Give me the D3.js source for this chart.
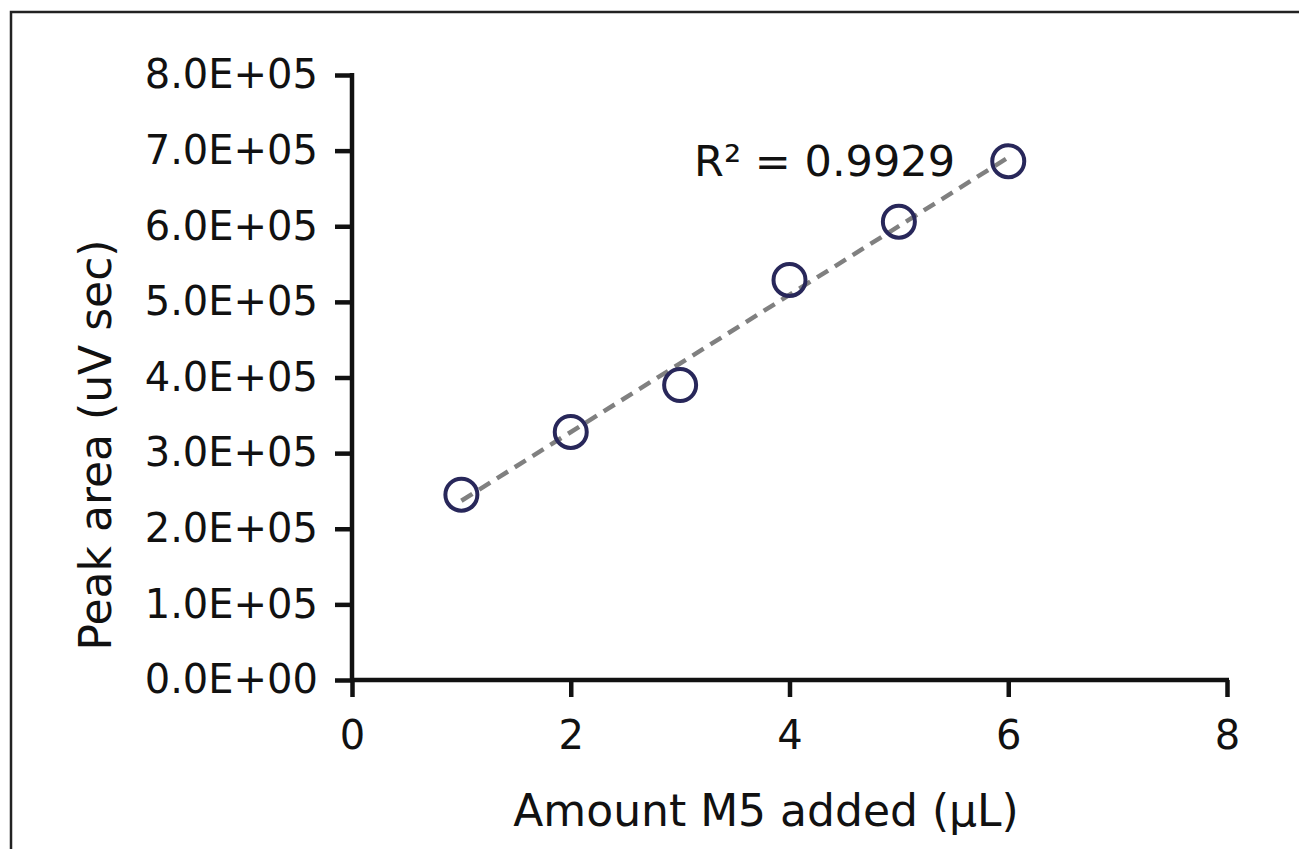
<!DOCTYPE html>
<html>
<head>
<meta charset="utf-8">
<script src="https://cdn.jsdelivr.net/npm/d3@7"></script>
<style>
  body { margin: 0; background: #fff; }
  svg text { font-family: "DejaVu Sans", Verdana, sans-serif; fill: #111; }
</style>
</head>
<body>
<svg></svg>
<script>
let w = 1299;
let h = 849;

// data
const amounts = [1, 2, 3, 4, 5, 6];
const peakAreas = [2.45e5, 3.28e5, 3.90e5, 5.29e5, 6.06e5, 6.86e5];
const xTicks = [0, 2, 4, 6, 8];
const yTicks = [0, 1e5, 2e5, 3e5, 4e5, 5e5, 6e5, 7e5, 8e5];
const r2Label = 'R² = 0.9929';

const svg = d3.select('svg')
  .attr('width', w)
  .attr('height', h)

// frame (only top and left visible in the original)
svg.append('path')
  .attr('d', `M11,${h} L11,12 L${w},12`)
  .attr('fill', 'none')
  .attr('stroke', '#222')
  .attr('stroke-width', 2.5)

// Scales
const xScale = d3.scaleLinear()
  .domain([0, 8])
  .range([352, 1227])

const yScale = d3.scaleLinear()
  .domain([0, 8e5])
  .range([680, 75])

// Axes
const xAxis = d3.axisBottom(xScale)
  .tickValues(xTicks)
  .tickSize(17)
  .tickPadding(24)
  .tickFormat(d => String(d))

const yAxis = d3.axisLeft(yScale)
  .tickValues(yTicks)
  .tickSize(17)
  .tickPadding(17)
  .tickFormat(d => (d / 1e5).toFixed(1) + 'E+' + (d === 0 ? '00' : '05'))

const gx = svg.append('g')
  .attr('transform', 'translate(0,' + yScale(0) + ')')
  .call(xAxis)

const gy = svg.append('g')
  .attr('transform', 'translate(' + xScale(0) + ',0)')
  .call(yAxis)

for (const g of [gx, gy]) {
  g.select('.domain').attr('stroke', '#111').attr('stroke-width', 4.5)
  g.selectAll('.tick line').attr('stroke', '#111').attr('stroke-width', 4.5)
  g.selectAll('.tick text').style('font-size', '40px').attr('fill', '#111')
}
gx.select('.domain').attr('d', `M${xScale(0) - 2},0H${xScale(8) + 2}`)
gy.select('.domain').attr('d', `M0,${yScale(0) + 2}V${yScale(8e5) - 2}`)

// trend line (least squares)
const mx = d3.mean(amounts), my = d3.mean(peakAreas)
const slope = d3.sum(amounts, (x, i) => (x - mx) * (peakAreas[i] - my)) /
  d3.sum(amounts, x => (x - mx) * (x - mx))
const icpt = my - slope * mx
const xs = d3.extent(amounts)

svg.append('line')
  .attr('x1', xScale(xs[0])).attr('y1', yScale(icpt + slope * xs[0]))
  .attr('x2', xScale(xs[1])).attr('y2', yScale(icpt + slope * xs[1]))
  .attr('stroke', '#808080')
  .attr('stroke-width', 4.5)
  .attr('stroke-dasharray', '13,8')

// Draw points
svg.selectAll('circle.dot')
  .data(amounts)
  .enter()
  .append('circle')
  .attr('class', 'dot')
  .attr('cx', d => xScale(d))
  .attr('cy', (d, i) => yScale(peakAreas[i]))
  .attr('r', 16)
  .attr('fill', 'none')
  .attr('stroke', '#28275a')
  .attr('stroke-width', 4)

// R² label
svg.append('text')
  .attr('x', 955)
  .attr('y', 176)
  .attr('text-anchor', 'end')
  .style('font-size', '43px')
  .text(r2Label)

// Axis titles
svg.append('text')
  .attr('x', 766)
  .attr('y', 826)
  .attr('text-anchor', 'middle')
  .style('font-size', '44px')
  .text('Amount M5 added (μL)')

svg.append('text')
  .attr('transform', 'translate(111,445) rotate(-90)')
  .attr('text-anchor', 'middle')
  .style('font-size', '44px')
  .text('Peak area (uV sec)')
</script>
</body>
</html>
